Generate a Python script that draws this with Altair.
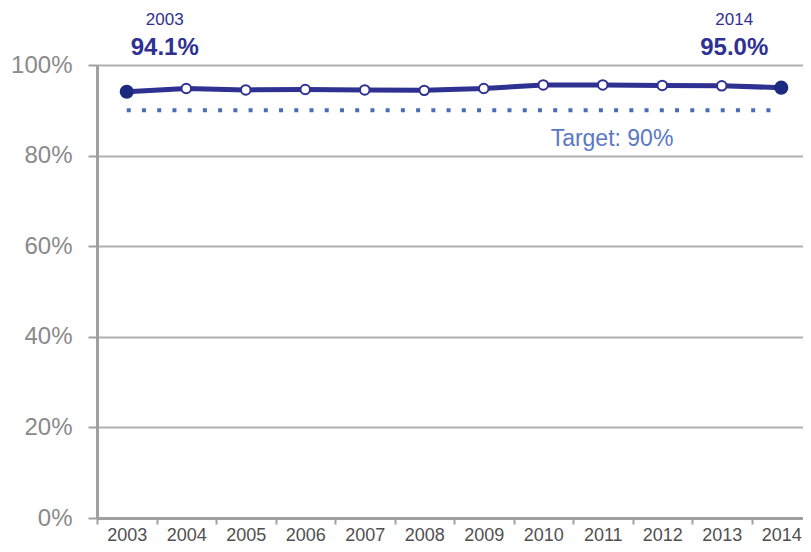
import altair as alt
import pandas as pd

years = [2003, 2004, 2005, 2006, 2007, 2008, 2009, 2010, 2011, 2012, 2013, 2014]
rates = [94.1, 94.8, 94.5, 94.6, 94.5, 94.4, 94.8, 95.6, 95.6, 95.5, 95.4, 95.0]
end_years = [2003, 2014]
end_values = [94.1, 95.0]
end_labels = ["94.1%", "95.0%"]
target_value = 90
target_label = "Target: 90%"
y_ticks = [0, 20, 40, 60, 80, 100]
x_tick_edges = [2002.5, 2003.5, 2004.5, 2005.5, 2006.5, 2007.5, 2008.5, 2009.5,
                2010.5, 2011.5, 2012.5, 2013.5, 2014.5]

df = pd.DataFrame({"year": years, "rate": rates})
df["end"] = df["year"].isin(end_years)
ends = pd.DataFrame({"year": end_years, "rate": end_values, "label": end_labels})
target = pd.DataFrame({"x1": [years[0]], "x2": [years[-1]], "y": [target_value], "label": [target_label]})

NAVY = "#2e3192"
DARK = "#1b2a7e"
DOTS = "#4a6cb8"
TLAB = "#5b78c4"
AX = "#a0a0a0"

xscale = alt.Scale(domain=[2002.5, 2014.5], range=[0, 714], nice=False, zero=False)
yscale = alt.Scale(domain=[0, 100], nice=False)

x_label_axis = alt.Axis(title=None, values=years, format="d", labelAngle=0, grid=False, ticks=False,
                        domainColor=AX, domainWidth=3, labelFontSize=18, labelColor="#505050",
                        labelPadding=8, labelFont="Liberation Sans", orient="bottom",
                        labelFlush=False, labelOverlap=False)
x_tick_axis = alt.Axis(title=None, values=x_tick_edges, labels=False, grid=False, ticks=True,
                       domain=False, tickColor=AX, tickWidth=2, tickSize=6, orient="bottom")

y_axis = alt.Axis(title=None, values=y_ticks, labelExpr="datum.value + '%'",
                  grid=True, gridColor="#b0b0b0", gridWidth=2,
                  domainColor=AX, domainWidth=3, tickColor=AX,
                  tickWidth=2, tickSize=9, labelFontSize=24, labelColor="#8a8a8a",
                  labelPadding=16, labelFont="Liberation Sans")


def yenc(field):
    return alt.Y(field, scale=yscale, axis=y_axis)


line = alt.Chart(df).mark_line(color=NAVY, strokeWidth=5).encode(
    x=alt.X("year:Q", scale=xscale, axis=x_label_axis), y=yenc("rate:Q"))

open_pts = alt.Chart(df).transform_filter("!datum.end").mark_point(
    shape="circle", filled=True, fill="white", stroke=NAVY, strokeWidth=2, size=90, opacity=1
).encode(x=alt.X("year:Q", scale=xscale, axis=None), y=yenc("rate:Q"))

end_pts = alt.Chart(df).transform_filter("datum.end").mark_point(
    shape="circle", filled=True, color=DARK, size=200, opacity=1
).encode(x=alt.X("year:Q", scale=xscale, axis=None), y=yenc("rate:Q"))

target_rule = alt.Chart(target).mark_rule(color=DOTS, strokeWidth=4, strokeDash=[4, 11.23]).encode(
    x=alt.X("x1:Q", scale=xscale, axis=x_tick_axis), x2="x2:Q", y=yenc("y:Q")
)

target_text = alt.Chart(target).mark_text(
    color=TLAB, fontSize=23, font="Liberation Sans", align="center", baseline="middle"
).encode(x=alt.value(515), y=alt.value(74), text="label:N")


def end_texts(yr, dx):
    src = alt.Chart(ends).transform_filter(f"datum.year == {yr}")
    t1 = src.mark_text(color=NAVY, fontSize=17, font="Liberation Sans", align="center",
                       baseline="middle", dx=dx).encode(
        x=alt.X("year:Q", scale=xscale, axis=None), y=alt.value(-45), text=alt.Text("year:Q", format="d"))
    t2 = src.mark_text(color=NAVY, fontSize=24, fontWeight="bold", font="Liberation Sans",
                       align="center", baseline="middle", dx=dx).encode(
        x=alt.X("year:Q", scale=xscale, axis=None), y=alt.value(-17), text="label:N")
    return [t1, t2]


layers = [line, target_rule, open_pts, end_pts, target_text] + end_texts(2003, 38) + end_texts(2014, -47)

chart = alt.layer(*layers).resolve_axis(x="independent").properties(
    width=706, height=453,
    autosize=alt.AutoSizeParams(type="none"),
    padding={"left": 89, "top": 57, "right": 0, "bottom": 28},
    background="white",
).configure_view(stroke=None)

chart.save("out.html", embed_options={"renderer": "svg", "actions": False})
